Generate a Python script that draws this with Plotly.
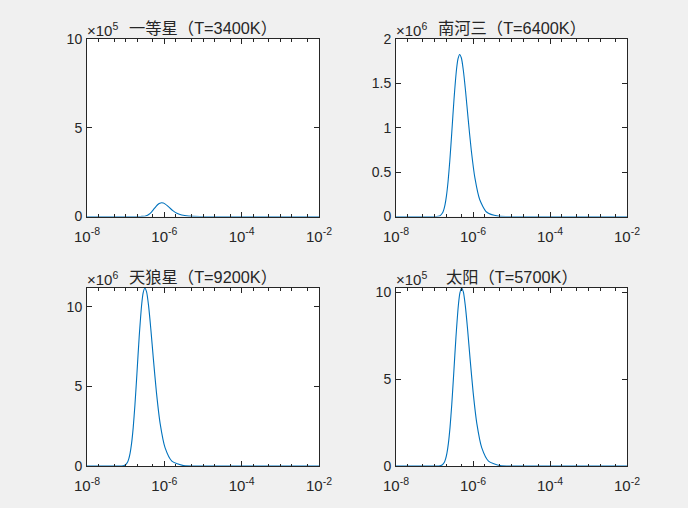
import plotly.graph_objects as go

# ---------------- data ----------------
titles = ["一等星（T=3400K）", "南河三（T=6400K）", "天狼星（T=9200K）", "太阳（T=5700K）"]
exponents = ["5", "6", "6", "5"]

wl_3400 = [1e-8, 1.693e-7, 2.116e-7, 2.351e-7, 2.645e-7, 3.023e-7, 3.255e-7, 3.527e-7, 3.847e-7, 4.232e-7,
           4.702e-7, 5.290e-7, 6.045e-7, 7.053e-7, 7.694e-7, 8.464e-7, 9.404e-7, 1.058e-6, 1.209e-6,
           1.411e-6, 1.693e-6, 2.116e-6, 2.821e-6, 4.232e-6, 8.464e-6, 4.232e-5, 1e-2]
val_3400 = [0, 0.49, 23.9, 105, 430, 1629, 3057, 5566, 9797, 16536, 26541, 40044, 55862, 70368, 75193,
            77200, 75502, 69573, 59552, 46366, 31806, 18242, 7944, 2123, 175, 0.35, 0]

wl_6400 = [1e-8, 8.992e-8, 1.124e-7, 1.249e-7, 1.405e-7, 1.606e-7, 1.729e-7, 1.873e-7, 2.044e-7, 2.248e-7,
           2.498e-7, 2.810e-7, 3.212e-7, 3.747e-7, 4.087e-7, 4.496e-7, 4.996e-7, 5.620e-7, 6.423e-7,
           7.494e-7, 8.992e-7, 1.124e-6, 1.499e-6, 2.248e-6, 4.496e-6, 2.248e-5, 1e-2]
val_6400 = [0, 11.7, 566, 2483, 10171, 38529, 72310, 131655, 231719, 391129, 627779, 947146, 1321294,
            1664399, 1778524, 1826000, 1785828, 1645591, 1408576, 1096696, 752312, 431484, 187895,
            50215, 4145, 8.2, 0]

wl_9200 = [1e-8, 6.256e-8, 7.820e-8, 8.688e-8, 9.774e-8, 1.117e-7, 1.203e-7, 1.303e-7, 1.422e-7, 1.564e-7,
           1.738e-7, 1.955e-7, 2.234e-7, 2.607e-7, 2.843e-7, 3.128e-7, 3.475e-7, 3.910e-7, 4.468e-7,
           5.213e-7, 6.256e-7, 7.820e-7, 1.043e-6, 1.564e-6, 3.128e-6, 1.564e-5, 1e-2]
val_9200 = [0, 71.6, 3469, 15218, 62328, 236109, 443124, 806799, 1420011, 2396898, 3847122, 5804253,
            8097084, 10199685, 10899060, 11190000, 10943820, 10084428, 8631966, 6720714, 4610280,
            2644197, 1151451, 307725, 25401, 50, 0]

wl_5700 = [1e-8, 1.010e-7, 1.262e-7, 1.402e-7, 1.578e-7, 1.803e-7, 1.942e-7, 2.104e-7, 2.295e-7, 2.524e-7,
           2.805e-7, 3.155e-7, 3.606e-7, 4.207e-7, 4.589e-7, 5.048e-7, 5.609e-7, 6.311e-7, 7.212e-7,
           8.414e-7, 1.010e-6, 1.262e-6, 1.683e-6, 2.524e-6, 5.048e-6, 2.524e-5, 1e-2]
val_5700 = [0, 6.5, 317, 1391, 5698, 21585, 40511, 73758, 129819, 219127, 351707, 530630, 740243,
            932465, 996402, 1023000, 1000494, 921928, 789142, 614414, 421476, 241735, 105267, 28133,
            2322, 4.6, 0]

x_tickvals = [1e-8, 1e-6, 1e-4, 1e-2]
x_ticktext = ["10<sup>-8</sup>", "10<sup>-6</sup>", "10<sup>-4</sup>", "10<sup>-2</sup>"]

y_ranges = [[0, 1e6], [0, 2e6], [0, 1.119e7], [0, 1.023e6]]
y_tickvals = [[0, 5e5, 1e6], [0, 5e5, 1e6, 1.5e6, 2e6], [0, 5e6, 1e7], [0, 5e5, 1e6]]
y_ticktext = [["0", "5", "10"], ["0", "0.5", "1", "1.5", "2"], ["0", "5", "10"], ["0", "5", "10"]]

series = [(wl_3400, val_3400), (wl_6400, val_6400), (wl_9200, val_9200), (wl_5700, val_5700)]

# ---------------- layout ----------------
W, H = 688, 508
# pixel boxes (left, right, top, bottom)
boxes = [(87, 319, 39, 216.5), (396, 627, 39, 216.5), (87, 319, 288, 466), (396, 627, 288, 466)]

FONT = "Liberation Sans, Arial, Noto Sans CJK SC, sans-serif"
TXT = "#262626"
BLUE = "#0072BD"

fig = go.Figure()
layout = dict(
    width=W, height=H,
    margin=dict(l=0, r=0, t=0, b=0, pad=0),
    paper_bgcolor="#f0f0f0",
    plot_bgcolor="white",
    showlegend=False,
    font=dict(family=FONT, size=14, color=TXT),
)
annotations = []
for i, ((xs, ys), (l, r, t, b)) in enumerate(zip(series, boxes)):
    k = "" if i == 0 else str(i + 1)
    fig.add_trace(go.Scatter(x=xs, y=ys, mode="lines",
                             line=dict(color=BLUE, width=1.1, shape="spline", smoothing=0.6),
                             xaxis="x" + k, yaxis="y" + k, hoverinfo="skip", cliponaxis=False))
    layout["xaxis" + k] = dict(
        type="log", range=[-8, -2], domain=[l / W, r / W], anchor="y" + k, automargin=False,
        tickvals=x_tickvals, ticktext=x_ticktext, ticks="inside", ticklen=5, tickcolor="#262626",
        showline=True, linecolor="#262626", linewidth=1, mirror="allticks", showgrid=False, zeroline=False,
        tickfont=dict(size=15, color=TXT), ticklabelstandoff=6,
        minor=dict(ticks="inside", ticklen=2.5, tickcolor="#262626", showgrid=False),
    )
    layout["yaxis" + k] = dict(
        range=y_ranges[i], domain=[1 - b / H, 1 - t / H], anchor="x" + k, automargin=False,
        tickvals=y_tickvals[i], ticktext=y_ticktext[i], ticks="inside", ticklen=5, tickcolor="#262626",
        showline=True, linecolor="#262626", linewidth=1, mirror="allticks", showgrid=False, zeroline=False,
        tickfont=dict(size=14, color=TXT), ticklabelstandoff=1,
    )
    annotations.append(dict(xref="paper", yref="paper", x=(l + r) / 2 / W, y=1 - (t - 11) / H,
                            text=titles[i], showarrow=False, xanchor="center", yanchor="middle",
                            font=dict(size=16.3, color=TXT, family=FONT)))
    annotations.append(dict(xref="paper", yref="paper", x=(l - 2) / W, y=1 - (t - 10) / H,
                            text="×10<sup>" + exponents[i] + "</sup>", showarrow=False, xanchor="left",
                            yanchor="middle", font=dict(size=15, color=TXT, family=FONT)))
layout["annotations"] = annotations
fig.update_layout(**layout)
fig.write_html("out.html", post_script="document.body.style.margin='0';",
               config={"displayModeBar": False})
